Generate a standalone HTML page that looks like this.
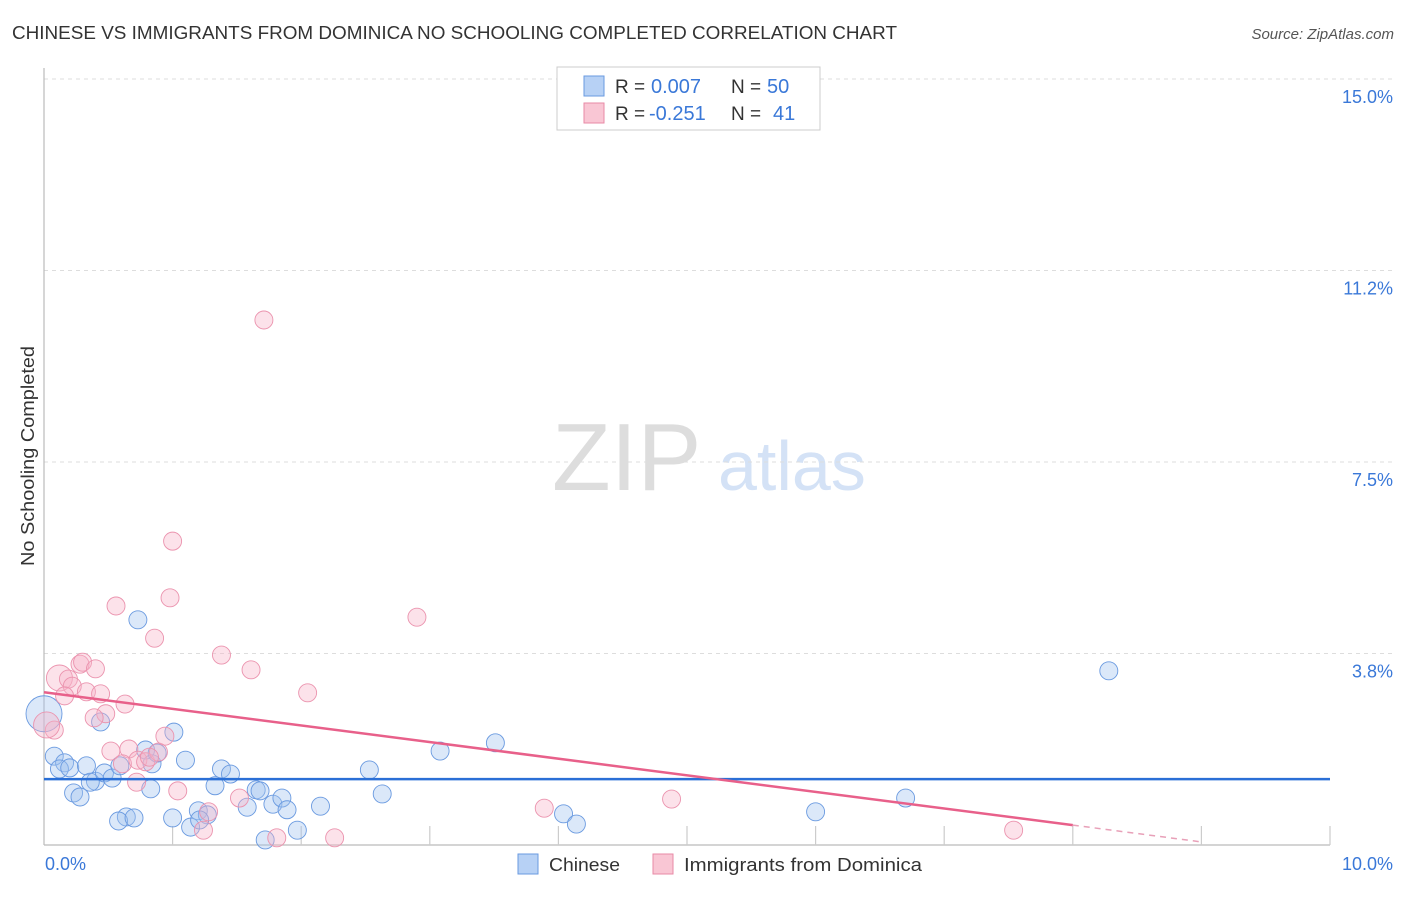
<!DOCTYPE html>
<html><head><meta charset="utf-8"><style>
body{margin:0;background:#fff;font-family:"Liberation Sans",sans-serif;}
svg text{font-family:"Liberation Sans",sans-serif;}
</style></head><body>
<svg id="chart" width="1406" height="892" xmlns="http://www.w3.org/2000/svg">
<text x="12" y="39" font-size="18" fill="#333" textLength="885" lengthAdjust="spacingAndGlyphs">CHINESE VS IMMIGRANTS FROM DOMINICA NO SCHOOLING COMPLETED CORRELATION CHART</text>
<text x="1394" y="39" font-size="15" fill="#555" text-anchor="end" font-style="italic">Source: ZipAtlas.com</text>
<text x="34" y="456" font-size="18" fill="#333" text-anchor="middle" textLength="220" lengthAdjust="spacingAndGlyphs" transform="rotate(-90 34 456)">No Schooling Completed</text>
<g>
<text x="552" y="490" font-size="96" fill="#ddd" font-family="Liberation Serif,serif">ZIP</text>
<text x="718" y="490" font-size="70" fill="#d4e2f6">atlas</text>
</g>
<g id="grid"></g><g id="axes"></g><g id="marks"></g>
<g>
<rect x="557" y="67" width="263" height="63" fill="#fff" stroke="#ccc"/>
<rect x="584" y="76" width="20" height="20" fill="#b7d1f5" stroke="#6a9ae0"/>
<rect x="584" y="103" width="20" height="20" fill="#f9c6d4" stroke="#e88aa6"/>
<text x="615" y="93" font-size="19" fill="#333">R =</text><text x="651" y="93" font-size="20" fill="#3a78d8">0.007</text>
<text x="731" y="93" font-size="19" fill="#333">N =</text><text x="767" y="93" font-size="20" fill="#3a78d8">50</text>
<text x="615" y="120" font-size="19" fill="#333">R =</text><text x="649" y="120" font-size="20" fill="#3a78d8">-0.251</text>
<text x="731" y="120" font-size="19" fill="#333">N =</text><text x="773" y="120" font-size="20" fill="#3a78d8">41</text>
</g>
<g>
<rect x="518" y="854" width="20" height="20" fill="#b7d1f5" stroke="#6a9ae0"/>
<text x="549" y="871" font-size="18" fill="#333" textLength="71" lengthAdjust="spacingAndGlyphs">Chinese</text>
<rect x="653" y="854" width="20" height="20" fill="#f9c6d4" stroke="#e88aa6"/>
<text x="684" y="871" font-size="18" fill="#333" textLength="238" lengthAdjust="spacingAndGlyphs">Immigrants from Dominica</text>
</g>
</svg>
<script>
const yTicks=[3.75,7.5,11.25,15];
const yTickLabels=["3.8%","7.5%","11.2%","15.0%"];
const xTicks=[1,2,3,4,5,6,7,8,9,10];
const blueX=[0.08,0.16,0.12,0.20,0.33,0.40,0.36,0.47,0.53,0.23,0.28,0.44,0.73,0.79,0.84,0.88,1.01,1.10,0.83,0.64,0.58,1.00,1.14,1.20,1.27,1.21,1.38,1.45,1.33,1.58,1.65,1.68,1.78,1.85,1.89,1.72,1.97,2.15,2.53,2.63,3.08,3.51,4.04,4.14,6.00,6.70,8.28,0.0,0.70,0.59];
const blueY=[1.74,1.61,1.49,1.51,1.55,1.25,1.23,1.41,1.31,1.02,0.94,2.41,4.41,1.86,1.59,1.80,2.21,1.66,1.10,0.55,0.47,0.53,0.35,0.67,0.59,0.49,1.49,1.39,1.16,0.74,1.08,1.06,0.80,0.92,0.69,0.10,0.29,0.76,1.47,1.00,1.84,2.00,0.61,0.41,0.65,0.92,3.41,2.57,0.53,1.55];
const pinkX=[1.71,1.00,0.56,0.98,0.86,1.38,1.61,2.90,2.05,0.28,0.30,0.40,0.12,0.19,0.22,0.16,0.33,0.44,0.63,0.48,0.39,0.08,0.52,0.66,0.61,0.73,0.79,0.89,0.94,0.72,1.04,1.28,1.24,1.52,1.81,2.26,3.89,4.88,7.54,0.82,0.02];
const pinkY=[10.28,5.95,4.68,4.84,4.05,3.72,3.43,4.46,2.98,3.54,3.58,3.45,3.27,3.25,3.11,2.92,3.00,2.96,2.76,2.57,2.49,2.25,1.84,1.88,1.59,1.66,1.63,1.82,2.13,1.23,1.06,0.65,0.29,0.92,0.14,0.14,0.72,0.90,0.29,1.72,2.35];
const blueTrend=[1.29,1.29];
const pinkTrend=[2.99,0.39,0.06];
const pinkTrendX=[0,8.0,9.0];
const X=v=>44+v*128.6, Y=v=>845-v*51.07;
const NS="http://www.w3.org/2000/svg";
function mk(tag,attrs,parent){const e=document.createElementNS(NS,tag);for(const k in attrs)e.setAttribute(k,attrs[k]);document.getElementById(parent).appendChild(e);return e;}
yTicks.forEach((t,i)=>{
 const l=mk('line',{x1:44,x2:1394,y1:Y(t),y2:Y(t),stroke:'#ddd','stroke-dasharray':'4,4'},'grid');
 
 
 const tx=mk('text',{x:1393,y:Y(t)+24,'font-size':18,fill:'#3a78d8','text-anchor':'end'},'grid');
 tx.textContent=yTickLabels[i];
 
 
});
let a=mk('line',{x1:44,x2:44,y1:68,y2:845,stroke:'#bbb','stroke-width':1.2},'axes');


a=mk('line',{x1:44,x2:1330,y1:845,y2:845,stroke:'#bbb','stroke-width':1.2},'axes');


xTicks.forEach(t=>{const l=mk('line',{x1:X(t),x2:X(t),y1:826,y2:845,stroke:'#ccc','stroke-width':1.2},'axes');
 
 });
let t0=mk('text',{x:45,y:870,'font-size':18,fill:'#3a78d8'},'axes');t0.textContent='0.0%';


t0=mk('text',{x:1393,y:870,'font-size':18,fill:'#3a78d8','text-anchor':'end'},'axes');t0.textContent='10.0%';


blueX.forEach((x,i)=>{const c=mk('circle',{cx:X(x),cy:Y(blueY[i]),r:(i==47?18:9),fill:'rgba(160,195,240,0.38)',stroke:'#6a9ae0','stroke-width':0.9},'marks');
 
 });
pinkX.forEach((x,i)=>{const c=mk('circle',{cx:X(x),cy:Y(pinkY[i]),r:(i==12||i==40?13:9),fill:'rgba(248,180,200,0.38)',stroke:'#eb93ae','stroke-width':0.9},'marks');
 
 });
let tl=mk('line',{x1:X(0),x2:X(10),y1:Y(blueTrend[0]),y2:Y(blueTrend[1]),stroke:'#2a6fd6','stroke-width':2.5},'marks');


tl=mk('line',{x1:X(pinkTrendX[0]),x2:X(pinkTrendX[1]),y1:Y(pinkTrend[0]),y2:Y(pinkTrend[1]),stroke:'#e8608a','stroke-width':2.5},'marks');


tl=mk('line',{x1:X(pinkTrendX[1]),x2:X(pinkTrendX[2]),y1:Y(pinkTrend[1]),y2:Y(pinkTrend[2]),stroke:'#e8a0b8','stroke-width':1.5,'stroke-dasharray':'6,5'},'marks');


</script>
</body></html>
